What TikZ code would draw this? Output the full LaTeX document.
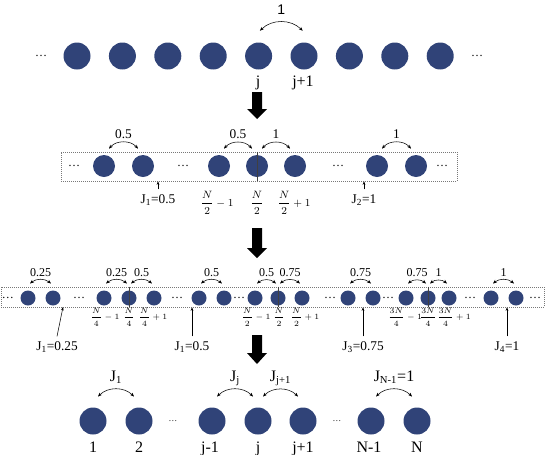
\documentclass[tikz,border=0pt]{standalone}
\usepackage{fontspec}
\usepackage{amsmath}
\setmainfont{Liberation Serif}
\newfontfamily\headfont{Liberation Sans}
\usetikzlibrary{arrows.meta,positioning}
\definecolor{sitenavy}{RGB}{48,67,120}
\definecolor{boxgray}{RGB}{120,120,120}

\begin{document}
\begin{tikzpicture}[x=0.75pt, y=0.75pt,
  every node/.style={font=\fontsize{10}{12}\selectfont},
  siteL/.style={circle, fill=sitenavy, minimum size=20.25pt, inner sep=0pt},
  siteM/.style={circle, fill=sitenavy, minimum size=16.5pt, inner sep=0pt},
  siteS/.style={circle, fill=sitenavy, minimum size=11.25pt, inner sep=0pt},
  chainbox/.style={draw=boxgray, densely dotted, line width=0.5pt, inner sep=0pt},
  cut/.style={line width=0.3pt, black!75},
  hop/.style={{Stealth[length=3pt,width=2.4pt]}-{Stealth[length=3pt,width=2.4pt]}, line width=0.4pt},
  ptr/.style={-{Stealth[length=2.6pt,width=2pt]}, line width=0.4pt},
  tag/.style={midway, anchor=base, yshift=#1},
  idx/.style={anchor=base, font=\fontsize{12}{14}\selectfont},
  jlab/.style={anchor=base},
  frac/.style={font=\fontsize{6.5}{8}\selectfont},
  gap/.style={font=\fontsize{9}{11}\selectfont}
]
  \useasboundingbox (0,0) rectangle (545,-454);

  % uniform chain
  \node[gap] (a0) at (41,-56) {\ldots};
  \node[siteL] (a1) at (77,-56) {};
  \node[siteL] (a2) at (122.4,-56) {};
  \node[siteL] (a3) at (167.8,-56) {};
  \node[siteL] (a4) at (213.2,-56) {};
  \node[siteL] (a5) at (258.6,-56) {};
  \node[siteL] (a6) at (304,-56) {};
  \node[siteL] (a7) at (349.4,-56) {};
  \node[siteL] (a8) at (394.8,-56) {};
  \node[siteL] (a9) at (440.2,-56) {};
  \node[gap] (a10) at (477,-56) {\ldots};
  \draw[hop] ([xshift=1pt,yshift=8.6pt]a5.north) to[bend left=45]
    node[tag=5.25pt, font=\headfont\fontsize{10.5}{12}\selectfont] {1} ([xshift=-1pt,yshift=8.6pt]a6.north);
  \node[idx] (ia5) at (258,-86) {j};
  \node[idx] (ia6) at (303,-86) {j+1};

  \fill (252,-92) -- (262,-92) -- (262,-109) -- (267,-109) -- (257,-119) -- (247,-109) -- (252,-109) -- cycle;

  % two blocks
  \node[chainbox, minimum width=297pt, minimum height=21.75pt] (box2) at (259,-166.5) {};
  \node[gap] (b0) at (74,-166) {\ldots};
  \node[siteM] (b1) at (104,-166) {};
  \node[siteM] (b2) at (143,-166) {};
  \node[gap] (bg1) at (183,-166) {\ldots};
  \node[siteM] (b3) at (219,-166) {};
  \node[siteM] (b4) at (257,-166) {};
  \node[siteM] (b5) at (295,-166) {};
  \node[gap] (bg2) at (338,-166) {\ldots};
  \node[siteM] (b6) at (377,-166) {};
  \node[siteM] (b7) at (416,-166) {};
  \node[gap] (b8) at (442,-166) {\ldots};
  \draw[cut] (b4 |- box2.north) -- (b4 |- box2.south);
  \draw[hop] ([xshift=3.75pt,yshift=4.5pt]b1.north) to[bend left=50]
    node[tag=3pt] {0.5} ([xshift=-3.75pt,yshift=4.5pt]b2.north);
  \draw[hop] ([xshift=3.75pt,yshift=4.5pt]b3.north) to[bend left=50]
    node[tag=3pt] {0.5} ([xshift=-3.75pt,yshift=4.5pt]b4.north);
  \draw[hop] ([xshift=3.75pt,yshift=4.5pt]b4.north) to[bend left=50]
    node[tag=3pt] {1} ([xshift=-3.75pt,yshift=4.5pt]b5.north);
  \draw[hop] ([xshift=3.75pt,yshift=4.5pt]b6.north) to[bend left=50]
    node[tag=3pt] {1} ([xshift=-3.75pt,yshift=4.5pt]b7.north);
  \node[font=\footnotesize] (fb3) at (217,-203) {$\dfrac{N}{2}-1$};
  \node[font=\footnotesize] (fb4) at (257,-203) {$\dfrac{N}{2}$};
  \node[font=\footnotesize] (fb5) at (294,-203) {$\dfrac{N}{2}+1$};
  \node[jlab] (jb1) at (158,-203) {J\textsubscript{1}=0.5};
  \node[jlab] (jb2) at (364,-203) {J\textsubscript{2}=1};
  \draw[ptr] (jb1.north) -- (jb1.north |- box2.south);
  \draw[ptr] (jb2.north) -- (jb2.north |- box2.south);

  \fill (252,-228) -- (262,-228) -- (262,-248) -- (267,-248) -- (257,-258) -- (247,-248) -- (252,-248) -- cycle;

  % four blocks
  \node[chainbox, minimum width=407.25pt, minimum height=15pt] (box3) at (272.5,-297) {};
  \node[gap] (c0) at (8,-298) {\ldots};
  \node[siteS] (c1) at (28,-298) {};
  \node[siteS] (c2) at (53,-298) {};
  \node[gap] (cg1) at (79,-298) {\ldots};
  \node[siteS] (c3) at (104,-298) {};
  \node[siteS] (c4) at (129,-298) {};
  \node[siteS] (c5) at (154,-298) {};
  \node[gap] (cg2) at (177,-298) {\ldots};
  \node[siteS] (c6) at (199,-298) {};
  \node[siteS] (c7) at (224,-298) {};
  \node[gap] (cg3) at (239,-298) {\ldots};
  \node[siteS] (c8) at (255,-298) {};
  \node[siteS] (c9) at (278,-298) {};
  \node[siteS] (c10) at (302,-298) {};
  \node[gap] (cg4) at (330,-298) {\ldots};
  \node[siteS] (c11) at (348,-298) {};
  \node[siteS] (c12) at (373,-298) {};
  \node[gap] (cg5) at (388,-298) {\ldots};
  \node[siteS] (c13) at (406,-298) {};
  \node[siteS] (c14) at (428,-298) {};
  \node[siteS] (c15) at (449,-298) {};
  \node[gap] (cg6) at (470,-298) {\ldots};
  \node[siteS] (c16) at (491,-298) {};
  \node[siteS] (c17) at (516,-298) {};
  \node[gap] (c18) at (535,-298) {\ldots};
  \draw[cut] (c4 |- box3.north) -- (c4 |- box3.south);
  \draw[cut] (c9 |- box3.north) -- (c9 |- box3.south);
  \draw[cut] (c14 |- box3.north) -- (c14 |- box3.south);
  \draw[hop] ([xshift=1.5pt,yshift=5pt]c1.north) to[bend left=40]
    node[tag=2.6pt, gap] {0.25} ([xshift=-1.5pt,yshift=5pt]c2.north);
  \draw[hop] ([xshift=1.5pt,yshift=5pt]c3.north) to[bend left=40]
    node[tag=2.6pt, gap] {0.25} ([xshift=-1.5pt,yshift=5pt]c4.north);
  \draw[hop] ([xshift=1.5pt,yshift=5pt]c4.north) to[bend left=40]
    node[tag=2.6pt, gap] {0.5} ([xshift=-1.5pt,yshift=5pt]c5.north);
  \draw[hop] ([xshift=1.5pt,yshift=5pt]c6.north) to[bend left=40]
    node[tag=2.6pt, gap] {0.5} ([xshift=-1.5pt,yshift=5pt]c7.north);
  \draw[hop] ([xshift=1.5pt,yshift=5pt]c8.north) to[bend left=40]
    node[tag=2.6pt, gap] {0.5} ([xshift=-1.5pt,yshift=5pt]c9.north);
  \draw[hop] ([xshift=1.5pt,yshift=5pt]c9.north) to[bend left=40]
    node[tag=2.6pt, gap] {0.75} ([xshift=-1.5pt,yshift=5pt]c10.north);
  \draw[hop] ([xshift=1.5pt,yshift=5pt]c11.north) to[bend left=40]
    node[tag=2.6pt, gap] {0.75} ([xshift=-1.5pt,yshift=5pt]c12.north);
  \draw[hop] ([xshift=1.5pt,yshift=5pt]c13.north) to[bend left=40]
    node[tag=2.6pt, gap] {0.75} ([xshift=-1.5pt,yshift=5pt]c14.north);
  \draw[hop] ([xshift=1.5pt,yshift=5pt]c14.north) to[bend left=40]
    node[tag=2.6pt, gap] {1} ([xshift=-1.5pt,yshift=5pt]c15.north);
  \draw[hop] ([xshift=1.5pt,yshift=5pt]c16.north) to[bend left=40]
    node[tag=2.6pt, gap] {1} ([xshift=-1.5pt,yshift=5pt]c17.north);
  \node[frac] (fc3) at (105,-317) {$\dfrac{N}{4}-1$};
  \node[frac] (fc4) at (129,-317) {$\dfrac{N}{4}$};
  \node[frac] (fc5) at (153,-317) {$\dfrac{N}{4}+1$};
  \node[frac] (fc8) at (256,-317) {$\dfrac{N}{2}-1$};
  \node[frac] (fc9) at (279,-317) {$\dfrac{N}{2}$};
  \node[frac] (fc10) at (305,-317) {$\dfrac{N}{2}+1$};
  \node[frac] (fc13) at (405,-317) {$\dfrac{3N}{4}-1$};
  \node[frac] (fc14) at (428,-317) {$\dfrac{3N}{4}$};
  \node[frac] (fc15) at (454,-317) {$\dfrac{3N}{4}+1$};
  \node[jlab] (jc1) at (57,-350) {J\textsubscript{1}=0.25};
  \node[jlab] (jc2) at (192,-350) {J\textsubscript{1}=0.5};
  \node[jlab] (jc3) at (363,-350) {J\textsubscript{3}=0.75};
  \node[jlab] (jc4) at (507,-350) {J\textsubscript{4}=1};
  \coordinate (tc1) at (63,-307);
  \draw[ptr] (jc1.north) -- (tc1);
  \draw[ptr] (jc2.north) -- (jc2.north |- box3.south);
  \draw[ptr] (jc3.north) -- (jc3.north |- box3.south);
  \draw[ptr] (jc4.north) -- (jc4.north |- box3.south);

  \fill (252,-335) -- (262,-335) -- (262,-353) -- (267,-353) -- (257,-364) -- (247,-353) -- (252,-353) -- cycle;

  % graded chain
  \node[siteL] (d1) at (93,-421) {};
  \node[siteL] (d2) at (139,-421) {};
  \node[gap, font=\fontsize{6.5}{8}\selectfont] (dg1) at (173,-421) {\ldots};
  \node[siteL] (d3) at (212,-421) {};
  \node[siteL] (d4) at (258,-421) {};
  \node[siteL] (d5) at (303,-421) {};
  \node[gap, font=\fontsize{6.5}{8}\selectfont] (dg2) at (337,-421) {\ldots};
  \node[siteL] (d6) at (371,-421) {};
  \node[siteL] (d7) at (417,-421) {};
  \draw[hop] ([xshift=3.75pt,yshift=8pt]d1.north) to[bend left=45]
    node[tag=6pt, idx] {J\textsubscript{1}} ([xshift=-3.75pt,yshift=8pt]d2.north);
  \draw[hop] ([xshift=3.75pt,yshift=8pt]d3.north) to[bend left=45]
    node[tag=6pt, idx] {J\textsubscript{j}} ([xshift=-3.75pt,yshift=8pt]d4.north);
  \draw[hop] ([xshift=3.75pt,yshift=8pt]d4.north) to[bend left=45]
    node[tag=6pt, idx] {J\textsubscript{j+1}} ([xshift=-3.75pt,yshift=8pt]d5.north);
  \draw[hop] ([xshift=3.75pt,yshift=8pt]d6.north) to[bend left=45]
    node[tag=6pt, idx] {J\textsubscript{N-1}=1} ([xshift=-3.75pt,yshift=8pt]d7.north);
  \node[idx] (id1) at (93,-452) {1};
  \node[idx] (id2) at (139,-452) {2};
  \node[idx] (id3) at (210,-452) {j-1};
  \node[idx] (id4) at (258,-452) {j};
  \node[idx] (id5) at (303,-452) {j+1};
  \node[idx] (id6) at (369,-452) {N-1};
  \node[idx] (id7) at (417,-452) {N};
\end{tikzpicture}
\end{document}
